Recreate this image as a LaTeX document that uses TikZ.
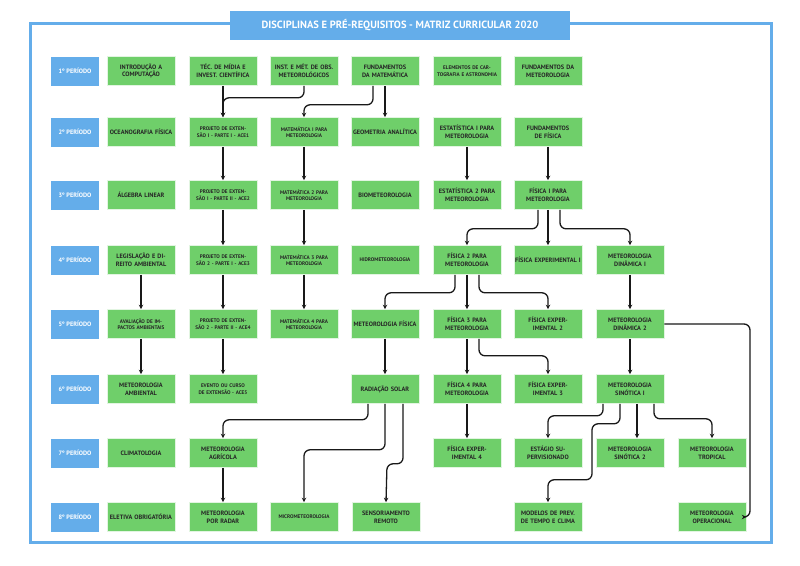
\documentclass[tikz,border=0pt]{standalone}
\usepackage{fontspec}
\setmainfont{PT Sans}
\usetikzlibrary{arrows.meta}
\definecolor{bl}{HTML}{64ADEA}
\definecolor{gr}{HTML}{6FCF6A}
\begin{document}
\begin{tikzpicture}[x=1pt,y=-1pt,
 box/.style={fill=gr,draw=white!80!gr,line width=0.6pt,minimum width=68pt,minimum height=29pt,inner sep=0.5pt,text width=67pt,align=center,font=\fontsize{6.3}{7.6}\selectfont\bfseries,text=black!85},
 sbox/.style={box,font=\fontsize{5.2}{6.4}\selectfont\bfseries},
 per/.style={fill=bl,minimum width=48pt,minimum height=29pt,inner sep=0pt,font=\fontsize{6.3}{7.6}\selectfont\bfseries,text=white},
 arr/.style={draw=black!90,line width=1.3pt,rounded corners=6pt,-{Stealth[length=4.5pt,width=4.5pt]}}]
\useasboundingbox (0,0) rectangle (800,565);
\fill[white] (0,0) rectangle (800,565);
\draw[bl,line width=3pt] (30,23) rectangle (771,542);
\node[fill=bl,minimum width=340pt,minimum height=29pt,text=white,font=\fontsize{10.5}{12}\selectfont\bfseries] (title) at (400,25) {DISCIPLINAS E PRÉ-REQUISITOS - MATRIZ CURRICULAR 2020};
% period labels
\foreach \i/\y in {1/71,2/132,3/195,4/260,5/324,6/389,7/453,8/517}
  \node[per] (p\i) at (75,\y) {\i º PERÍODO};
% row 1
\node[box] (intro) at (141,71) {INTRODUÇÃO A COMPUTAÇÃO};
\node[box] (tec) at (223,71) {TÉC. DE MÍDIA E INVEST. CIENTÍFICA};
\node[box] (inst) at (304,71) {INST. E MÉT. DE OBS. METEOROLÓGICOS};
\node[box] (fmat) at (385,71) {FUNDAMENTOS DA MATEMÁTICA};
\node[sbox] (elem) at (467,71) {ELEMENTOS DE CARTOGRAFIA E ASTRONOMIA};
\node[box] (fmet) at (548,71) {FUNDAMENTOS DA METEOROLOGIA};
% row 2
\node[box] (ocea) at (141,132) {OCEANOGRAFIA FÍSICA};
\node[sbox] (pe1) at (223,132) {PROJETO DE EXTENSÃO I - PARTE I - ACE1};
\node[sbox] (mat1) at (304,132) {MATEMÁTICA I PARA METEOROLOGIA};
\node[box] (geo) at (385,132) {GEOMETRIA ANALÍTICA};
\node[box] (est1) at (467,132) {ESTATÍSTICA I PARA METEOROLOGIA};
\node[box] (ffis) at (548,132) {FUNDAMENTOS DE FÍSICA};
% row 3
\node[box] (alg) at (141,195) {ÁLGEBRA LINEAR};
\node[sbox] (pe2) at (223,195) {PROJETO DE EXTENSÃO I - PARTE II - ACE2};
\node[sbox] (mat2) at (304,195) {MATEMÁTICA 2 PARA METEOROLOGIA};
\node[box] (bio) at (385,195) {BIOMETEOROLOGIA};
\node[box] (est2) at (467,195) {ESTATÍSTICA 2 PARA METEOROLOGIA};
\node[box] (fis1) at (548,195) {FÍSICA I PARA METEOROLOGIA};
% row 4
\node[box] (leg) at (141,260) {LEGISLAÇÃO E DIREITO AMBIENTAL};
\node[sbox] (pe3) at (223,260) {PROJETO DE EXTENSÃO 2 - PARTE I - ACE3};
\node[sbox] (mat3) at (304,260) {MATEMÁTICA 3 PARA METEOROLOGIA};
\node[sbox] (hidro) at (385,260) {HIDROMETEOROLOGIA};
\node[box] (fis2) at (467,260) {FÍSICA 2 PARA METEOROLOGIA};
\node[box] (fe1) at (548,260) {FÍSICA EXPERIMENTAL I};
\node[box] (md1) at (630,260) {METEOROLOGIA DINÂMICA I};
% row 5
\node[sbox] (aval) at (141,324) {AVALIAÇÃO DE IMPACTOS AMBIENTAIS};
\node[sbox] (pe4) at (223,324) {PROJETO DE EXTENSÃO 2 - PARTE II - ACE4};
\node[sbox] (mat4) at (304,324) {MATEMÁTICA 4 PARA METEOROLOGIA};
\node[box] (mfis) at (385,324) {METEOROLOGIA FÍSICA};
\node[box] (fis3) at (467,324) {FÍSICA 3 PARA METEOROLOGIA};
\node[box] (fe2) at (548,324) {FÍSICA EXPERIMENTAL 2};
\node[box] (md2) at (630,324) {METEOROLOGIA DINÂMICA 2};
% row 6
\node[box] (mamb) at (141,389) {METEOROLOGIA AMBIENTAL};
\node[sbox] (evt) at (223,389) {EVENTO OU CURSO DE EXTENSÃO - ACE5};
\node[box] (rad) at (385,389) {RADIAÇÃO SOLAR};
\node[box] (fis4) at (467,389) {FÍSICA 4 PARA METEOROLOGIA};
\node[box] (fe3) at (548,389) {FÍSICA EXPERIMENTAL 3};
\node[box] (sin1) at (630,389) {METEOROLOGIA SINÓTICA I};
% row 7
\node[box] (clim) at (141,453) {CLIMATOLOGIA};
\node[box] (agr) at (223,453) {METEOROLOGIA AGRÍCOLA};
\node[box] (fe4) at (467,453) {FÍSICA EXPERIMENTAL 4};
\node[box] (estg) at (548,453) {ESTÁGIO SUPERVISIONADO};
\node[box] (sin2) at (630,453) {METEOROLOGIA SINÓTICA 2};
\node[box] (trop) at (712,453) {METEOROLOGIA TROPICAL};
% row 8
\node[box] (elet) at (141,517) {ELETIVA OBRIGATÓRIA};
\node[box] (radar) at (223,517) {METEOROLOGIA POR RADAR};
\node[sbox] (micro) at (304,517) {MICROMETEOROLOGIA};
\node[box] (sens) at (386,517) {SENSORIAMENTO REMOTO};
\node[box] (mod) at (548,517) {MODELOS DE PREV. DE TEMPO E CLIMA};
\node[box] (mop) at (712,517) {METEOROLOGIA OPERACIONAL};
% connectors
\draw[arr] (tec) -- (pe1);
\draw[arr] (inst.south) -- ++(0,12) -| (pe1.north);
\draw[arr] ([xshift=-12pt]fmat.south) -- ++(0,19) -| (mat1.north);
\draw[arr] (fmat) -- (geo);
\foreach \a/\b in {pe1/pe2,pe2/pe3,pe3/pe4,pe4/evt,mat1/mat2,mat2/mat3,mat3/mat4,leg/aval,aval/mamb,est1/est2,ffis/fis1,fis1/fe1,md1/md2,fis2/fis3,md2/sin1,mfis/rad,fis3/fis4,fis4/fe4,agr/radar}
  \draw[arr] (\a) -- (\b);
\draw[arr] ([xshift=-10pt]fis1.south) -- ++(0,19) -| (fis2.north);
\draw[arr] ([xshift=12pt]fis1.south) -- ++(0,19) -| (md1.north);
\draw[arr] ([xshift=-12pt]fis2.south) -- ++(0,18) -| (mfis.north);
\draw[arr] ([xshift=12pt]fis2.south) -- ++(0,18) -| (fe2.north);
\draw[arr] ([xshift=12pt]fis3.south) -- ++(0,17) -| (fe3.north);
\draw[arr] (md2.east) -- (750,324) -- (750,517) -- (mop.east);
\draw[arr] ([xshift=-17pt]rad.south) -- ++(0,16) -| (agr.north);
\draw[arr] (rad.south) -- ++(0,46) -- ++(-81,0) -- (micro.north);
\draw[arr] ([xshift=18pt]rad.south) -- ++(0,60) -- ++(-16,0) -- (sens.north);
\draw[arr] ([xshift=-27pt]sin1.south) -- ++(0,12) -| (estg.north);
\draw[arr] ([xshift=-10pt]sin1.south) -- ++(0,20) -- ++(-28,0) -- ++(0,56) -- ++(-44,0) -- (mod.north);
\draw[arr] ([xshift=7pt]sin1.south) -- ([xshift=7pt]sin2.north);
\draw[arr] ([xshift=24pt]sin1.south) -- ++(0,15) -| (trop.north);
\end{tikzpicture}
\end{document}
